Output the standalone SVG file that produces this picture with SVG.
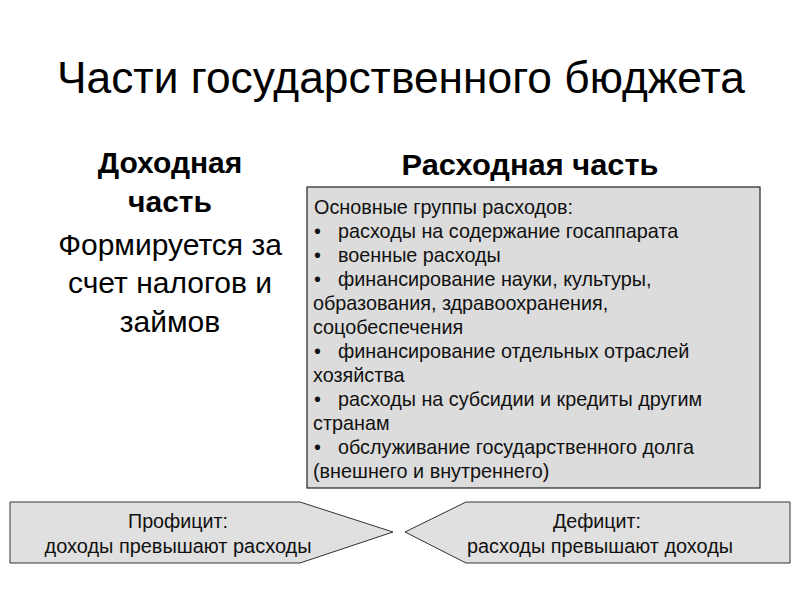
<svg xmlns="http://www.w3.org/2000/svg" width="800" height="600" viewBox="0 0 800 600">
<style>
text{font-family:"Liberation Sans",Arial,sans-serif;fill:#000}
.title{font-size:44.3px}
.h{font-size:30px;font-weight:bold}
.big{font-size:30px}
.box{font-size:19.8px;fill:#111}
.bot{font-size:20px;fill:#111}
.shape{fill:#e0e0e0;stroke:#333;stroke-width:1}
</style>
<rect width="800" height="600" fill="#fff"/>
<g id="title"><text class="title" x="401" y="93" text-anchor="middle">Части государственного бюджета</text></g>
<g id="income">
<text class="h" x="170" y="173" text-anchor="middle">Доходная</text>
<text class="h" x="170" y="212" text-anchor="middle">часть</text>
<text class="big" x="170" y="255" text-anchor="middle">Формируется за</text>
<text class="big" x="170" y="293" text-anchor="middle">счет налогов и</text>
<text class="big" x="170" y="332" text-anchor="middle">займов</text>
</g>
<g id="expense">
<text class="h" x="530" y="175" text-anchor="middle" textLength="257" lengthAdjust="spacingAndGlyphs">Расходная часть</text>
<rect x="307" y="187" width="453" height="301" fill="#dcdcdc" stroke="#222" stroke-width="1.2"/>
<text class="box" x="314" y="214">Основные группы расходов:</text>
<text class="box" x="314" y="238">•</text><text class="box" x="338" y="238">расходы на содержание госаппарата</text>
<text class="box" x="314" y="262">•</text><text class="box" x="338" y="262">военные расходы</text>
<text class="box" x="314" y="286">•</text><text class="box" x="338" y="286">финансирование науки, культуры,</text>
<text class="box" x="313" y="310">образования, здравоохранения,</text>
<text class="box" x="313" y="334">соцобеспечения</text>
<text class="box" x="314" y="358">•</text><text class="box" x="338" y="358">финансирование отдельных отраслей</text>
<text class="box" x="313" y="382">хозяйства</text>
<text class="box" x="314" y="406">•</text><text class="box" x="338" y="406">расходы на субсидии и кредиты другим</text>
<text class="box" x="313" y="430">странам</text>
<text class="box" x="314" y="454">•</text><text class="box" x="338" y="454">обслуживание государственного долга</text>
<text class="box" x="313" y="478">(внешнего и внутреннего)</text>
</g>
<g id="surplus">
<polygon class="shape" points="10,502 300,502 393,532 300,563 10,563"/>
<text class="bot" x="178" y="528" text-anchor="middle" textLength="100" lengthAdjust="spacingAndGlyphs">Профицит:</text>
<text class="bot" x="178" y="553" text-anchor="middle" textLength="267" lengthAdjust="spacingAndGlyphs">доходы превышают расходы</text>
</g>
<g id="deficit">
<polygon class="shape" points="405,532 466,502 790,502 790,563 466,563"/>
<text class="bot" x="597" y="528" text-anchor="middle" textLength="88" lengthAdjust="spacingAndGlyphs">Дефицит:</text>
<text class="bot" x="600" y="553" text-anchor="middle" textLength="266" lengthAdjust="spacingAndGlyphs">расходы превышают доходы</text>
</g>
<g id="connectors"></g>
</svg>
